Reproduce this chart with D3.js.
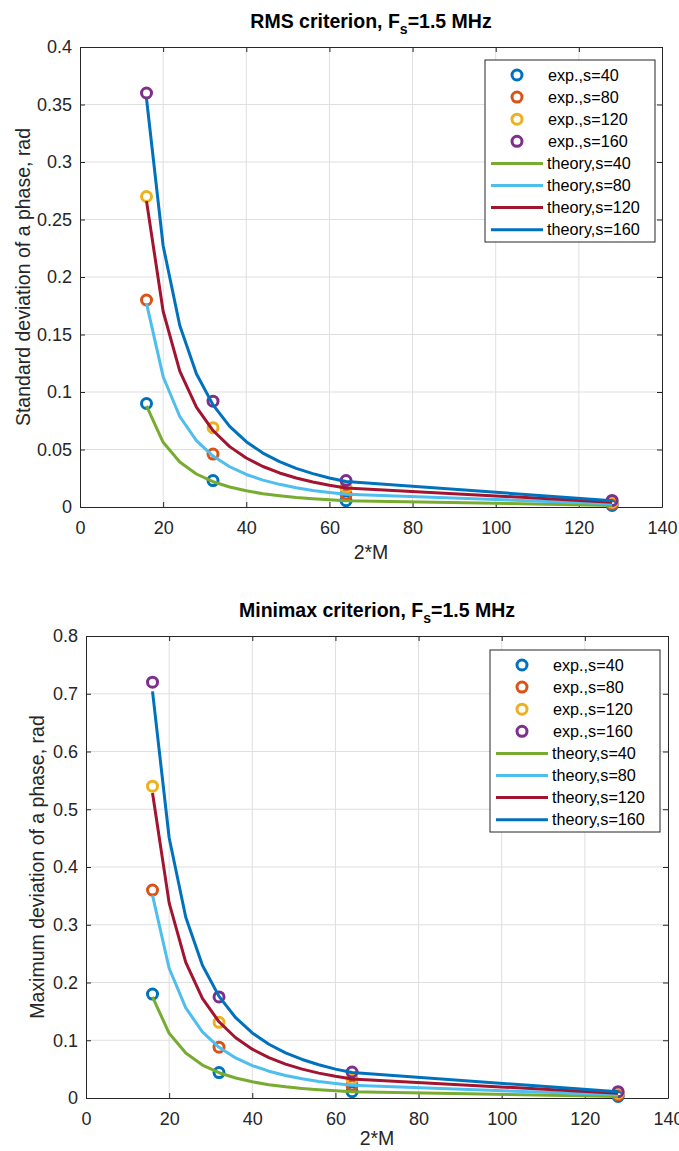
<!DOCTYPE html>
<html>
<head>
<meta charset="utf-8">
<script src="https://cdn.jsdelivr.net/npm/d3@7"></script>
<style>
  body { margin: 0; background: #fff; }
  svg { display: block; font-family: "Liberation Sans", Arial, sans-serif; }
</style>
</head>
<body>
<svg id="chart" width="679" height="1151"></svg>
<script>
// x positions (2*M)
var expX = [16, 32, 64, 128];
var theoryX = [16, 20, 24, 28, 32, 36, 40, 44, 48, 52, 56, 60, 64, 128];
var sLabels = ["s=40", "s=80", "s=120", "s=160"];

// RMS criterion
var rmsExp = [
  [0.09, 0.023, 0.0055, 0.0014],
  [0.18, 0.046, 0.011, 0.0028],
  [0.27, 0.069, 0.017, 0.0042],
  [0.36, 0.092, 0.023, 0.0057]
];
var rmsTheory = [
  [0.088, 0.0563, 0.0391, 0.0287, 0.022, 0.0174, 0.0141, 0.0116, 0.0098, 0.0083, 0.0072, 0.0063, 0.0055, 0.0014],
  [0.177, 0.1133, 0.0787, 0.0578, 0.0443, 0.035, 0.0283, 0.0234, 0.0197, 0.0168, 0.0144, 0.0126, 0.0111, 0.0028],
  [0.266, 0.1702, 0.1182, 0.0869, 0.0665, 0.0525, 0.0426, 0.0352, 0.0296, 0.0252, 0.0217, 0.0189, 0.0166, 0.0042],
  [0.355, 0.2272, 0.1578, 0.1159, 0.0888, 0.0701, 0.0568, 0.0469, 0.0394, 0.0336, 0.029, 0.0252, 0.0222, 0.0055]
];

// Minimax criterion
var maxExp = [
  [0.18, 0.044, 0.011, 0.0028],
  [0.36, 0.088, 0.022, 0.0055],
  [0.54, 0.131, 0.033, 0.0083],
  [0.72, 0.175, 0.045, 0.011]
];
var maxTheory = [
  [0.175, 0.112, 0.0778, 0.0571, 0.0438, 0.0346, 0.028, 0.0231, 0.0194, 0.0166, 0.0143, 0.0124, 0.0109, 0.0027],
  [0.351, 0.2246, 0.156, 0.1146, 0.0878, 0.0693, 0.0562, 0.0464, 0.039, 0.0332, 0.0286, 0.025, 0.0219, 0.0055],
  [0.528, 0.3379, 0.2347, 0.1724, 0.132, 0.1043, 0.0845, 0.0698, 0.0587, 0.05, 0.0431, 0.0375, 0.033, 0.0083],
  [0.704, 0.4506, 0.3129, 0.2299, 0.176, 0.139, 0.1126, 0.0931, 0.0782, 0.0667, 0.0575, 0.05, 0.044, 0.011]
];

var xTicks = [0, 20, 40, 60, 80, 100, 120, 140];
var rmsTicks = [0, 0.05, 0.1, 0.15, 0.2, 0.25, 0.3, 0.35, 0.4];
var maxTicks = [0, 0.1, 0.2, 0.3, 0.4, 0.5, 0.6, 0.7, 0.8];

var expColors = ["#0072BD", "#D95319", "#EDB120", "#7E2F8E"];
var theoryColors = ["#77AC30", "#4DBEEE", "#A2142F", "#0072BD"];

var svg = d3.select("#chart");
var axisColor = "#262626";

function drawPanel(cfg) {
  var x = d3.scaleLinear().domain([0, 140]).range([cfg.left, cfg.right]);
  var y = d3.scaleLinear().domain([0, cfg.ymax]).range([cfg.bottom, cfg.top]);
  var g = svg.append("g");

  // grid
  g.append("g").selectAll("line").data(xTicks.slice(1, -1)).enter().append("line")
    .attr("x1", function(d){ return x(d); }).attr("x2", function(d){ return x(d); })
    .attr("y1", cfg.top).attr("y2", cfg.bottom)
    .attr("stroke", "#dfdfdf").attr("stroke-width", 1);
  g.append("g").selectAll("line").data(cfg.yTicks.slice(1, -1)).enter().append("line")
    .attr("y1", function(d){ return y(d); }).attr("y2", function(d){ return y(d); })
    .attr("x1", cfg.left).attr("x2", cfg.right)
    .attr("stroke", "#dfdfdf").attr("stroke-width", 1);

  var clip = "clip" + cfg.id;
  svg.append("clipPath").attr("id", clip).append("rect")
    .attr("x", cfg.left - 8).attr("y", cfg.top)
    .attr("width", cfg.right - cfg.left + 8).attr("height", cfg.bottom - cfg.top + 8);

  // axes (bottom/left with labels, top/right mirror)
  var xb = d3.axisBottom(x).tickValues(xTicks).tickSizeInner(-5).tickSizeOuter(0).tickPadding(14).tickFormat(d3.format("d"));
  var xt = d3.axisTop(x).tickValues(xTicks).tickSizeInner(-5).tickSizeOuter(0).tickFormat("");
  var yl = d3.axisLeft(y).tickValues(cfg.yTicks).tickSizeInner(-5).tickSizeOuter(0).tickPadding(8).tickFormat(d3.format("~g"));
  var yr = d3.axisRight(y).tickValues(cfg.yTicks).tickSizeInner(-5).tickSizeOuter(0).tickFormat("");

  var axes = [
    g.append("g").attr("transform", "translate(0," + cfg.bottom + ")").call(xb),
    g.append("g").attr("transform", "translate(0," + cfg.top + ")").call(xt),
    g.append("g").attr("transform", "translate(" + cfg.left + ",0)").call(yl),
    g.append("g").attr("transform", "translate(" + cfg.right + ",0)").call(yr)
  ];
  axes.forEach(function(a) {
    a.select(".domain").attr("stroke", axisColor).attr("stroke-width", 1);
    a.selectAll(".tick line").attr("stroke", axisColor);
    a.selectAll(".tick text").attr("fill", axisColor).style("font-size", "18px");
  });

  // markers (drawn first)
  var plot = g.append("g").attr("clip-path", "url(#" + clip + ")");
  cfg.exp.forEach(function(series, i) {
    plot.append("g").selectAll("circle").data(series).enter().append("circle")
      .attr("cx", function(d, j){ return x(expX[j]); })
      .attr("cy", function(d){ return y(d); })
      .attr("r", 5)
      .attr("fill", "none")
      .attr("stroke", expColors[i])
      .attr("stroke-width", 3);
  });

  var line = d3.line()
    .x(function(d, j){ return x(theoryX[j]); })
    .y(function(d){ return y(d); });
  cfg.theory.forEach(function(series, i) {
    plot.append("path").datum(series)
      .attr("d", line)
      .attr("fill", "none")
      .attr("stroke", theoryColors[i])
      .attr("stroke-width", 3)
      .attr("stroke-linejoin", "round");
  });

  // title
  var t = g.append("text")
    .attr("x", (cfg.left + cfg.right) / 2).attr("y", cfg.top - 19)
    .attr("text-anchor", "middle")
    .attr("fill", "#000")
    .style("font-size", "19.5px").style("font-weight", "bold");
  t.append("tspan").text(cfg.title + ", F");
  t.append("tspan").attr("dy", 6).style("font-size", "14px").text("s");
  t.append("tspan").attr("dy", -6).text("=1.5 MHz");

  // axis labels
  g.append("text")
    .attr("x", (cfg.left + cfg.right) / 2).attr("y", cfg.bottom + cfg.xlabelOff)
    .attr("text-anchor", "middle").attr("fill", axisColor)
    .style("font-size", "19.5px").text("2*M");
  g.append("text")
    .attr("transform", "translate(" + cfg.ylabelX + "," + (cfg.top + cfg.bottom) / 2 + ") rotate(-90)")
    .attr("text-anchor", "middle").attr("dy", "0.35em").attr("fill", axisColor)
    .style("font-size", "19.5px").text(cfg.ylabel);

  // legend
  var lg = g.append("g").attr("transform", "translate(" + cfg.legX + "," + cfg.legY + ")");
  lg.append("rect").attr("width", 170).attr("height", 182)
    .attr("fill", "#fff").attr("stroke", axisColor).attr("stroke-width", 1);
  var rowH = 22.1;
  sLabels.forEach(function(s, i) {
    var yy = 15 + i * rowH;
    lg.append("circle").attr("cx", 32).attr("cy", yy).attr("r", 5)
      .attr("fill", "none").attr("stroke", expColors[i]).attr("stroke-width", 3);
    lg.append("text").attr("x", 63).attr("y", yy).attr("dy", "0.35em")
      .attr("fill", "#000").style("font-size", "16.2px").text("exp.," + s);
  });
  sLabels.forEach(function(s, i) {
    var yy = 15 + (i + 4) * rowH;
    lg.append("line").attr("x1", 6).attr("x2", 58).attr("y1", yy).attr("y2", yy)
      .attr("stroke", theoryColors[i]).attr("stroke-width", 3);
    lg.append("text").attr("x", 62).attr("y", yy).attr("dy", "0.35em")
      .attr("fill", "#000").style("font-size", "16.2px").text("theory," + s);
  });
}

drawPanel({
  id: 1, left: 80, right: 662, top: 47, bottom: 507, ymax: 0.4,
  yTicks: rmsTicks, exp: rmsExp, theory: rmsTheory,
  title: "RMS criterion", ylabel: "Standard deviation of a phase, rad", ylabelX: 23,
  xlabelOff: 52, legX: 485, legY: 60
});
drawPanel({
  id: 2, left: 86, right: 668, top: 636, bottom: 1098, ymax: 0.8,
  yTicks: maxTicks, exp: maxExp, theory: maxTheory,
  title: "Minimax criterion", ylabel: "Maximum deviation of a phase, rad", ylabelX: 37,
  xlabelOff: 47, legX: 490, legY: 650
});
</script>
</body>
</html>
